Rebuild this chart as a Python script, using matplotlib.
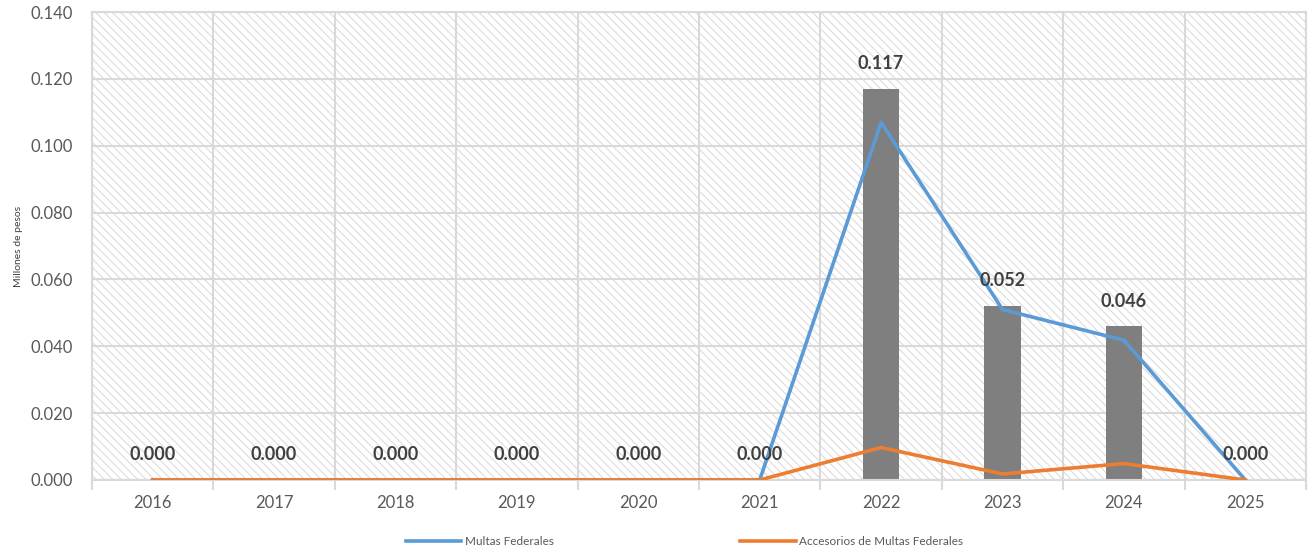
import matplotlib.pyplot as plt
import numpy as np
from matplotlib.patches import Rectangle

YEARS = ["2016", "2017", "2018", "2019", "2020", "2021", "2022", "2023", "2024", "2025"]
TOTAL = [0.0, 0.0, 0.0, 0.0, 0.0, 0.0, 0.117, 0.052, 0.046, 0.0]
MULTAS = [0.0, 0.0, 0.0, 0.0, 0.0, 0.0, 0.107, 0.051, 0.0418, 0.0]
ACCESORIOS = [0.0, 0.0, 0.0, 0.0, 0.0, 0.0, 0.0097, 0.0018, 0.0049, 0.0]
Y_TICKS = [0.0, 0.02, 0.04, 0.06, 0.08, 0.10, 0.12, 0.14]

BAR_COLOR = "#7F7F7F"
BLUE = "#5B9BD5"
ORANGE = "#ED7D31"
GRID = "#D9D9D9"
TEXT = "#595959"

plt.rcParams["font.family"] = ["Lato", "DejaVu Sans"]
plt.rcParams["hatch.linewidth"] = 0.8

fig = plt.figure(figsize=(13.08, 5.51), dpi=100)
ax = fig.add_axes([0.0703, 0.1289, 0.9282, 0.8493])

x = np.arange(len(YEARS))

# hatched background
ax.add_patch(Rectangle((0, 0), 1, 1, transform=ax.transAxes, facecolor="white",
                       edgecolor="#DCDCDC", linewidth=0, hatch="\\\\\\\\", zorder=0))

# grid
for v in Y_TICKS:
    ax.axhline(v, color=GRID, lw=1.5, zorder=1)
for b in np.arange(-0.5, len(YEARS), 1):
    ax.axvline(b, color=GRID, lw=1.5, zorder=1)

bars = ax.bar(x, TOTAL, width=0.3, color=BAR_COLOR, zorder=2)
ax.plot(x, MULTAS, color=BLUE, lw=2.6, zorder=3, label="Multas Federales")
ax.plot(x, ACCESORIOS, color=ORANGE, lw=2.6, zorder=3, label="Accesorios de Multas Federales")

for xi, v in zip(x, TOTAL):
    ax.annotate(f"{v:.3f}", (xi, v), xytext=(0, 12), textcoords="offset points",
                ha="center", va="bottom", fontsize=13, fontweight="bold",
                color="#404040", zorder=4)

ax.set_xlim(-0.5, len(YEARS) - 0.5)
ax.set_ylim(0, 0.14)
ax.set_yticks(Y_TICKS)
ax.set_yticklabels([f"{v:.3f}" for v in Y_TICKS])
ax.set_xticks(x)
ax.set_xticklabels(YEARS)
ax.set_xticks(np.arange(-0.5, len(YEARS), 1), minor=True)
ax.tick_params(axis="x", which="major", length=0, pad=11, labelsize=12, labelcolor=TEXT)
ax.tick_params(axis="x", which="minor", length=7, width=1.5, color=GRID)
ax.tick_params(axis="y", length=0, pad=14, labelsize=12, labelcolor=TEXT)

for s in ax.spines.values():
    s.set_color(GRID)
    s.set_linewidth(1.5)

ax.set_ylabel("Millones de pesos", fontsize=7.5, color="#404040", labelpad=5)

fig.legend(loc="lower center", bbox_to_anchor=(0.5235, -0.012), ncol=2, frameon=False,
           fontsize=8.5, handlelength=4.7, columnspacing=15.8, labelcolor=TEXT,
           handletextpad=0.3)

fig.savefig("out.png", dpi=100)
